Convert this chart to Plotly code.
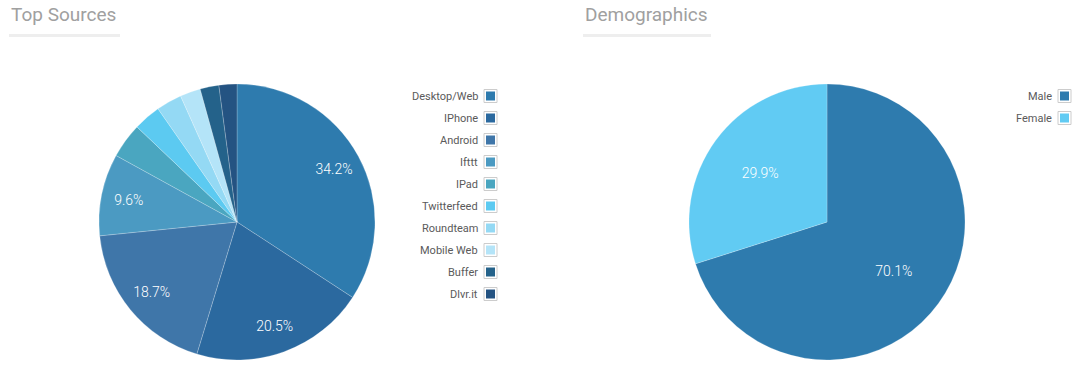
import plotly.graph_objects as go

W, H = 1078, 370

# ---- data ----
source_labels = ["Desktop/Web", "IPhone", "Android", "Ifttt", "IPad", "Twitterfeed",
                 "Roundteam", "Mobile Web", "Buffer", "Dlvr.it"]
source_values = [34.2, 20.5, 18.7, 9.6, 4.1, 3.2, 3.0, 2.4, 2.2, 2.1]
source_colors = ["#2e7bae", "#2b699f", "#3f76a9", "#4b9ac2", "#4aa6c0", "#5ccaf1",
                 "#94d9f4", "#b4e4f8", "#24628a", "#245382"]

demo_labels = ["Male", "Female"]
demo_values = [70.1, 29.9]
demo_colors = ["#2e7bae", "#61cbf3"]

SHOW_MIN = 5.0  # only label slices at least this large


def px_x(x):
    return x / W


def px_y(y):
    return 1 - y / H


def templates(values):
    return ["%{percent:.1%}" if v >= SHOW_MIN else "" for v in values]


fig = go.Figure()

R = 138
for labels, values, colors, cx, text_hole in [
    (source_labels, source_values, source_colors, 237, 0.6),
    (demo_labels, demo_values, demo_colors, 827, 0.2),
]:
    dom = dict(x=[px_x(cx - R), px_x(cx + R)], y=[px_y(222 + R), px_y(222 - R)])
    # filled pie
    fig.add_trace(go.Pie(
        labels=labels, values=values, sort=False, direction="clockwise", rotation=0,
        marker=dict(colors=colors, line=dict(color="rgba(255,255,255,0.35)", width=0.6)),
        textinfo="none", hoverinfo="label+percent",
        domain=dom, showlegend=False,
    ))
    # transparent ring carrying the percentage labels
    fig.add_trace(go.Pie(
        labels=labels, values=values, sort=False, direction="clockwise", rotation=0,
        hole=text_hole,
        marker=dict(colors=["rgba(0,0,0,0)"] * len(values), line=dict(width=0)),
        texttemplate=templates(values), textposition="inside",
        insidetextorientation="horizontal",
        textfont=dict(family="Roboto", size=14, color="white", weight=300),
        hoverinfo="skip",
        domain=dom, showlegend=False,
    ))

annotations = []
shapes = []

# titles with underline
for title, tx, ux1 in [("Top Sources", 9, 120), ("Demographics", 583, 711)]:
    annotations.append(dict(
        text=title, x=px_x(tx), y=px_y(14), xref="paper", yref="paper",
        xanchor="left", yanchor="middle", showarrow=False,
        font=dict(family="Roboto", size=19, color="#a0a0a0", weight=400),
    ))
    shapes.append(dict(
        type="rect", xref="paper", yref="paper",
        x0=px_x(tx), x1=px_x(ux1), y0=px_y(37), y1=px_y(34),
        fillcolor="#eeeeee", line=dict(width=0),
    ))

# custom legends (text right, swatch at right)
for labels, colors, text_right, sq_left in [
    (source_labels, source_colors, 480, 484),
    (demo_labels, demo_colors, 1054, 1058),
]:
    for i, (lab, col) in enumerate(zip(labels, colors)):
        yc = 96 + 22 * i
        annotations.append(dict(
            text=lab, x=px_x(text_right), y=px_y(yc), xref="paper", yref="paper",
            xanchor="right", yanchor="middle", showarrow=False,
            font=dict(family="Roboto", size=11, color="#5a5a5a"),
        ))
        shapes.append(dict(
            type="rect", xref="paper", yref="paper",
            x0=px_x(sq_left), x1=px_x(sq_left + 13), y0=px_y(yc + 6.5), y1=px_y(yc - 6.5),
            fillcolor="#ffffff", line=dict(color="#cccccc", width=1),
        ))
        shapes.append(dict(
            type="rect", xref="paper", yref="paper",
            x0=px_x(sq_left + 2), x1=px_x(sq_left + 11), y0=px_y(yc + 4.5), y1=px_y(yc - 4.5),
            fillcolor=col, line=dict(width=0),
        ))

fig.update_layout(
    width=W, height=H, margin=dict(l=0, r=0, t=0, b=0),
    paper_bgcolor="white", plot_bgcolor="white",
    annotations=annotations, shapes=shapes,
    font=dict(family="Roboto"),
)

fig.write_html("out.html", config={"displayModeBar": False},
               post_script="document.body.style.margin='0';")
